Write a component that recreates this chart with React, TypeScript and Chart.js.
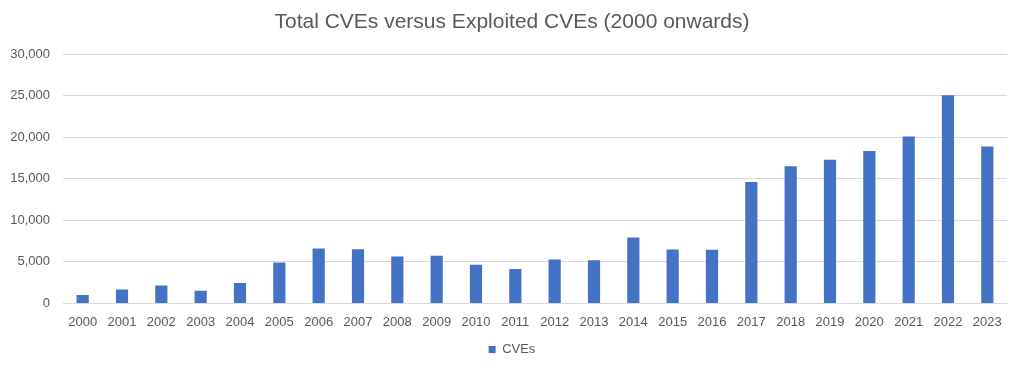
import React, { useEffect, useRef } from "react";
import { Chart, registerables } from "chart.js";

Chart.register(...registerables);

const years = ["2000","2001","2002","2003","2004","2005","2006","2007","2008","2009","2010","2011","2012","2013","2014","2015","2016","2017","2018","2019","2020","2021","2022","2023"];
const cves = [1020,1677,2156,1527,2451,4935,6610,6520,5632,5732,4639,4150,5288,5187,7937,6487,6447,14600,16510,17305,18350,20100,25050,18880];
const titleText = "Total CVEs versus Exploited CVEs (2000 onwards)";
const seriesLabel = "CVEs";

export default function App() {
  const ref = useRef<HTMLCanvasElement | null>(null);
  useEffect(() => {
    document.body.style.margin = "0";
    if (!ref.current) return;
    const font = "'Liberation Sans', Arial, sans-serif";
    const chart = new Chart(ref.current, {
      type: "bar",
      data: {
        labels: years,
        datasets: [{
          label: seriesLabel,
          data: cves,
          backgroundColor: "#4472C4",
          borderWidth: 0,
          barPercentage: 0.31,
          categoryPercentage: 1,
        }],
      },
      options: {
        animation: false,
        responsive: false,
        maintainAspectRatio: false,
        layout: { padding: { left: 0, right: 0, top: 0, bottom: 4 } },
        plugins: {
          title: {
            display: true,
            text: titleText,
            color: "#595959",
            font: { family: font, size: 21, weight: "normal" },
            padding: { top: 10, bottom: 19 },
          },
          legend: {
            position: "bottom",
            labels: {
              color: "#595959",
              font: { family: font, size: 13 },
              boxWidth: 7,
              boxHeight: 7,
              padding: 10,
            },
          },
          tooltip: { enabled: false },
        },
        scales: {
          x: {
            grid: { display: false },
            border: { color: "#D9D9D9" },
            ticks: { color: "#595959", font: { family: font, size: 13 }, maxRotation: 0, autoSkip: false, padding: 3 },
          },
          y: {
            min: 0,
            max: 30000,
            grid: { color: "#D9D9D9", drawTicks: false },
            border: { display: false },
            afterFit: (s: any) => { s.width = 63; },
            ticks: {
              stepSize: 5000,
              color: "#595959",
              font: { family: font, size: 13 },
              padding: 13,
              callback: (v: any) => Number(v).toLocaleString("en-US"),
            },
          },
          yRight: {
            position: "right",
            display: true,
            grid: { display: false, drawTicks: false },
            border: { display: false },
            ticks: { display: false },
            afterFit: (s: any) => { s.width = 17; },
          },
        },
      },
    });
    return () => chart.destroy();
  }, []);
  return (
    <div style={{ width: 1024, height: 370 }}>
      <canvas ref={ref} width={1024} height={370} />
    </div>
  );
}
